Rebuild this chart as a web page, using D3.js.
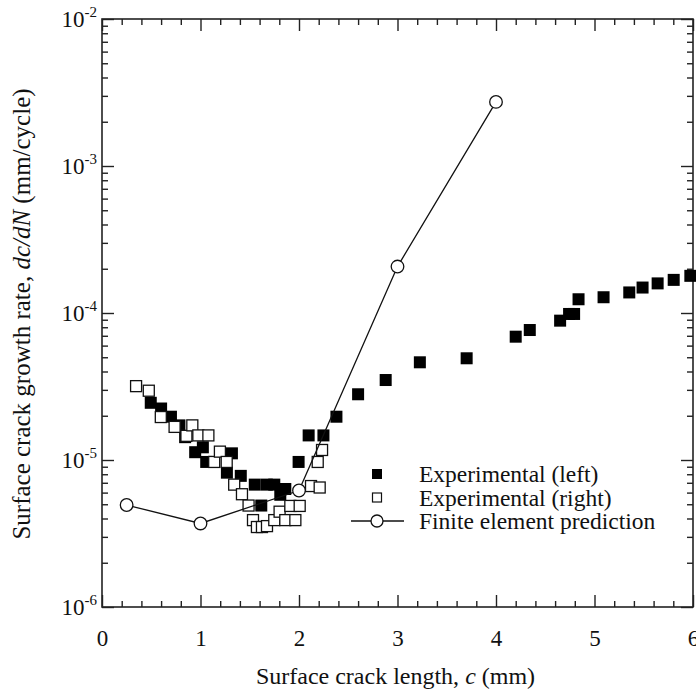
<!DOCTYPE html>
<html>
<head>
<meta charset="utf-8">
<script src="https://cdn.jsdelivr.net/npm/d3@7"></script>
<style>
  body { margin: 0; background: #fff; }
  svg text { font-family: "Liberation Serif", "Times New Roman", serif; fill: #111; }
</style>
</head>
<body>
<div id="chart"></div>
<script>
// crack growth data: [c (mm), dc/dN (mm/cycle)]
const leftC = [0.495, 0.6, 0.7, 0.786, 0.844, 0.946, 1.024, 1.058, 1.268, 1.319, 1.409, 1.551, 1.617, 1.673,
    1.749, 1.81, 1.861, 1.996, 2.098, 2.248, 2.38, 2.6, 2.88, 3.227, 3.702, 4.2, 4.343, 4.651, 4.742, 4.793,
    4.838, 5.092, 5.353, 5.488, 5.641, 5.804, 5.973];
const leftRate = [2.45e-5, 2.24e-5, 1.97e-5, 1.72e-5, 1.43e-5, 1.13e-5, 1.22e-5, 9.7e-6, 8.2e-6, 1.11e-5, 7.8e-6, 6.8e-6, 4.9e-6, 6.8e-6,
    6.8e-6, 5.8e-6, 6.35e-6, 9.7e-6, 1.47e-5, 1.47e-5, 1.97e-5, 2.8e-5, 3.5e-5, 4.62e-5, 4.92e-5, 6.9e-5, 7.66e-5, 8.87e-5, 9.85e-5, 9.85e-5,
    1.24e-4, 1.28e-4, 1.38e-4, 1.49e-4, 1.59e-4, 1.68e-4, 1.79e-4];

const rightC = [0.346, 0.475, 0.597, 0.737, 0.857, 0.917, 0.978, 1.08, 1.139, 1.197, 1.266, 1.342, 1.421, 1.488,
    1.533, 1.573, 1.624, 1.675, 1.749, 1.803, 1.861, 1.912, 1.963, 2.007, 2.122, 2.19, 2.21, 2.234];
const rightRate = [3.18e-5, 2.96e-5, 1.96e-5, 1.68e-5, 1.46e-5, 1.72e-5, 1.47e-5, 1.47e-5, 9.7e-6, 1.14e-5, 9.7e-6, 6.8e-6, 5.85e-6, 4.9e-6,
    3.9e-6, 3.5e-6, 3.5e-6, 3.55e-6, 3.9e-6, 4.45e-6, 3.9e-6, 4.87e-6, 3.9e-6, 4.87e-6, 6.65e-6, 9.7e-6, 6.5e-6, 1.17e-5];

const feC = [0.25, 1, 2, 3, 4];
const feRate = [4.94e-6, 3.7e-6, 6.2e-6, 2.07e-4, 2.73e-3];

const xTicks = [0, 1, 2, 3, 4, 5, 6];
const yExps = [-6, -5, -4, -3, -2];
const legendLabels = ["Experimental (left)", "Experimental (right)", "Finite element prediction"];

const W = 696, H = 695;
const margin = { top: 19, right: 3, bottom: 88, left: 102 };
const width = W - margin.left - margin.right;
const height = H - margin.top - margin.bottom;

const svg = d3.select("#chart").append("svg")
    .attr("width", W)
    .attr("height", H)
    .append("g")
    .attr("transform", `translate(${margin.left},${margin.top})`);

const x = d3.scaleLinear().domain([0, 6]).range([0, width]);
const y = d3.scaleLog().domain([1e-6, 1e-2]).range([height, 0]);

const minorX = d3.range(0, 6.001, 0.2).filter(v => Math.abs(v - Math.round(v)) > 1e-6);
const minorY = [];
yExps.slice(0, -1).forEach(e => {
    for (let k = 2; k <= 9; k++) minorY.push(k * Math.pow(10, e));
});
const majorY = yExps.map(e => Math.pow(10, e));

// axes, ticks pointing inward on all four sides
function styleAxis(g) {
    g.select(".domain").remove();
    g.selectAll(".tick line").attr("stroke", "#222").attr("stroke-width", 1.4);
}
svg.append("g").attr("transform", `translate(0,${height})`)
    .call(d3.axisBottom(x).tickValues(minorX).tickSize(-6).tickFormat("")).call(styleAxis);
svg.append("g").attr("transform", `translate(0,${height})`)
    .call(d3.axisBottom(x).tickValues(xTicks).tickSize(-12).tickPadding(23).tickFormat(d3.format("d")))
    .call(styleAxis)
    .selectAll("text").style("font-size", "23px").attr("fill", "#111");
svg.append("g")
    .call(d3.axisTop(x).tickValues(minorX).tickSize(-6).tickFormat("")).call(styleAxis);
svg.append("g")
    .call(d3.axisTop(x).tickValues(xTicks).tickSize(-12).tickFormat("")).call(styleAxis);

svg.append("g")
    .call(d3.axisLeft(y).tickValues(minorY).tickSize(-6).tickFormat("")).call(styleAxis);
svg.append("g")
    .call(d3.axisLeft(y).tickValues(majorY).tickSize(-12).tickFormat(""))
    .call(styleAxis);
svg.append("g").attr("transform", `translate(${width},0)`)
    .call(d3.axisRight(y).tickValues(minorY).tickSize(-6).tickFormat("")).call(styleAxis);
svg.append("g").attr("transform", `translate(${width},0)`)
    .call(d3.axisRight(y).tickValues(majorY).tickSize(-12).tickFormat("")).call(styleAxis);

// y tick labels as 10 with superscript exponent
yExps.forEach(e => {
    const t = svg.append("text")
        .attr("x", -5)
        .attr("y", y(Math.pow(10, e)) + 8)
        .attr("text-anchor", "end")
        .style("font-size", "23px");
    t.append("tspan").text("10");
    t.append("tspan").text(String(e)).attr("dy", -10).style("font-size", "15px");
});

// frame
svg.append("rect")
    .attr("width", width).attr("height", height)
    .attr("fill", "none").attr("stroke", "#222").attr("stroke-width", 1.6);

// axis titles
const xt = svg.append("text")
    .attr("x", width / 2 - 2)
    .attr("y", height + 77)
    .attr("text-anchor", "middle")
    .style("font-size", "24px");
xt.append("tspan").text("Surface crack length, ");
xt.append("tspan").text("c").style("font-style", "italic");
xt.append("tspan").text(" (mm)");

const yt = svg.append("text")
    .attr("transform", `translate(${-72},${height / 2 + 1}) rotate(-90)`)
    .attr("text-anchor", "middle")
    .style("font-size", "25px");
yt.append("tspan").text("Surface crack growth rate, ");
yt.append("tspan").text("dc/dN").style("font-style", "italic");
yt.append("tspan").text(" (mm/cycle)");

// markers
const sq = 12;
const leftData = leftC.map((c, i) => ({ c: c, r: leftRate[i] }));
const rightData = rightC.map((c, i) => ({ c: c, r: rightRate[i] }));
const feData = feC.map((c, i) => ({ c: c, r: feRate[i] }));

svg.selectAll(".left").data(leftData).enter().append("rect")
    .attr("class", "left")
    .attr("x", d => x(d.c) - sq / 2)
    .attr("y", d => y(d.r) - sq / 2)
    .attr("width", sq).attr("height", sq)
    .attr("fill", "#000");

svg.selectAll(".right").data(rightData).enter().append("rect")
    .attr("class", "right")
    .attr("x", d => x(d.c) - sq / 2 + 0.5)
    .attr("y", d => y(d.r) - sq / 2 + 0.5)
    .attr("width", sq - 1).attr("height", sq - 1)
    .attr("fill", "#fff").attr("stroke", "#111").attr("stroke-width", 1.3);

svg.append("path")
    .datum(feData)
    .attr("fill", "none").attr("stroke", "#111").attr("stroke-width", 1.3)
    .attr("d", d3.line().x(d => x(d.c)).y(d => y(d.r)));

svg.selectAll(".fe").data(feData).enter().append("circle")
    .attr("class", "fe")
    .attr("cx", d => x(d.c)).attr("cy", d => y(d.r))
    .attr("r", 6.3)
    .attr("fill", "#fff").attr("stroke", "#111").attr("stroke-width", 1.3);

// legend
const lg = svg.append("g").attr("transform", `translate(${377 - margin.left},${474 - margin.top})`);
const rowH = 23.5;
lg.append("rect").attr("x", -5).attr("y", -5).attr("width", 10).attr("height", 10).attr("fill", "#000");
lg.append("rect").attr("x", -4.5).attr("y", rowH - 4.5).attr("width", 9).attr("height", 9)
    .attr("fill", "#fff").attr("stroke", "#111").attr("stroke-width", 1.2);
lg.append("line").attr("x1", -26).attr("x2", 27).attr("y1", 2 * rowH).attr("y2", 2 * rowH)
    .attr("stroke", "#111").attr("stroke-width", 1.3);
lg.append("circle").attr("cx", 0).attr("cy", 2 * rowH).attr("r", 6)
    .attr("fill", "#fff").attr("stroke", "#111").attr("stroke-width", 1.3);
lg.selectAll(".lt").data(legendLabels).enter().append("text")
    .attr("x", 42)
    .attr("y", (d, i) => i * rowH + 8)
    .style("font-size", "23.5px")
    .text(d => d);
</script>
</body>
</html>
